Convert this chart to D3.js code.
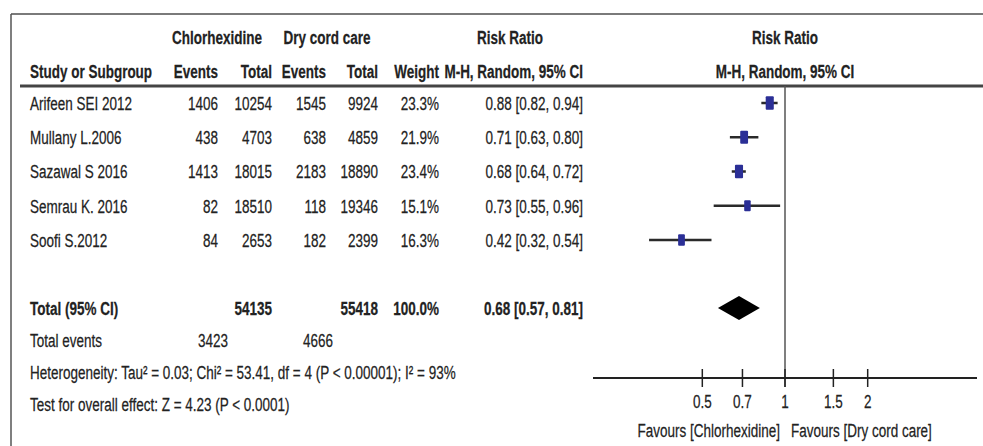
<!DOCTYPE html>
<html>
<head>
<meta charset="utf-8">
<script src="https://cdn.jsdelivr.net/npm/d3@7"></script>
<style>
  html, body { margin: 0; padding: 0; background: #fff; }
  svg { display: block; }
  text { font-family: "Liberation Sans", Arial, sans-serif; fill: #222; stroke: #222; stroke-width: 0.25; }
</style>
</head>
<body>
<svg id="chart" width="983" height="446"></svg>
<script>
// Study-level data
const studies   = ["Arifeen SEI 2012", "Mullany L.2006", "Sazawal S 2016", "Semrau K. 2016", "Soofi S.2012"];
const chxEvents = [1406, 438, 1413, 82, 84];
const chxTotal  = [10254, 4703, 18015, 18510, 2653];
const dryEvents = [1545, 638, 2183, 118, 182];
const dryTotal  = [9924, 4859, 18890, 19346, 2399];
const weights   = [23.3, 21.9, 23.4, 15.1, 16.3];
const rr        = [0.88, 0.71, 0.68, 0.73, 0.42];
const rrLow     = [0.82, 0.63, 0.64, 0.55, 0.32];
const rrHigh    = [0.94, 0.80, 0.72, 0.96, 0.54];

// Pooled estimate
const pooledChxTotal = 54135;
const pooledDryTotal = 55418;
const pooledWeight = 100.0;
const pooled = [0.68, 0.57, 0.81];
const pooledChxEvents = 3423;
const pooledDryEvents = 4666;
const heterogeneityText = "Heterogeneity: Tau\u00B2 = 0.03; Chi\u00B2 = 53.41, df = 4 (P < 0.00001); I\u00B2 = 93%";
const overallText = "Test for overall effect: Z = 4.23 (P < 0.0001)";

// Axis
const axisTicks = [0.5, 0.7, 1, 1.5, 2];
const axisDomain = [0.2, 5];
const favourLeft = "Favours [Chlorhexidine]";
const favourRight = "Favours [Dry cord care]";

const svg = d3.select("#chart");
svg.append("rect").attr("width", 983).attr("height", 446).attr("fill", "#fff");

const fmt2 = d3.format(".2f");
const ciText = (m, l, h) => `${fmt2(m)} [${fmt2(l)}, ${fmt2(h)}]`;

// Frame lines
svg.append("line").attr("x1", 11).attr("x2", 983).attr("y1", 14).attr("y2", 14)
  .attr("stroke", "#7a7a7a").attr("stroke-width", 2);
svg.append("line").attr("x1", 11).attr("x2", 11).attr("y1", 14).attr("y2", 446)
  .attr("stroke", "#555").attr("stroke-width", 1.5);
// Header underline
svg.append("line").attr("x1", 20).attr("x2", 983).attr("y1", 86).attr("y2", 86)
  .attr("stroke", "#444").attr("stroke-width", 3);

// Condensed lettering: regular face squeezed horizontally
const fs = 19;
const squeeze = 0.71;
function txt(x, y, s, anchor, bold, size) {
  return svg.append("text")
    .attr("transform", `translate(${x},${y}) scale(${squeeze},1)`)
    .attr("dy", "0.36em")
    .attr("text-anchor", anchor || "start")
    .attr("font-size", size || fs)
    .attr("font-weight", bold ? 700 : 400)
    .text(s);
}

// Column right edges
const col = { name: 30, chxE: 218, chxT: 272, dryE: 326, dryT: 378, w: 439, rr: 583 };

// Headers
txt(217, 37, "Chlorhexidine", "middle", true);
txt(327, 37, "Dry cord care", "middle", true);
txt(510, 37, "Risk Ratio", "middle", true);
txt(785, 37, "Risk Ratio", "middle", true);
txt(col.name, 71, "Study or Subgroup", "start", true);
txt(col.chxE, 71, "Events", "end", true);
txt(col.chxT, 71, "Total", "end", true);
txt(col.dryE, 71, "Events", "end", true);
txt(col.dryT, 71, "Total", "end", true);
txt(col.w, 71, "Weight", "end", true);
txt(col.rr, 71, "M-H, Random, 95% CI", "end", true);
txt(785, 71, "M-H, Random, 95% CI", "middle", true);

// Row positions
const rowY = d3.scalePoint().domain(studies).range([103, 240]);

studies.forEach((s, i) => {
  const y = rowY(s);
  txt(col.name, y, s, "start");
  txt(col.chxE, y, chxEvents[i], "end");
  txt(col.chxT, y, chxTotal[i], "end");
  txt(col.dryE, y, dryEvents[i], "end");
  txt(col.dryT, y, dryTotal[i], "end");
  txt(col.w, y, weights[i].toFixed(1) + "%", "end");
  txt(col.rr, y, ciText(rr[i], rrLow[i], rrHigh[i]), "end");
});

// Totals
const totalY = 308;
txt(col.name, totalY, "Total (95% CI)", "start", true);
txt(col.chxT, totalY, pooledChxTotal, "end", true);
txt(col.dryT, totalY, pooledDryTotal, "end", true);
txt(col.w, totalY, pooledWeight.toFixed(1) + "%", "end", true);
txt(col.rr, totalY, ciText(pooled[0], pooled[1], pooled[2]), "end", true);

txt(col.name, 340, "Total events", "start");
txt(col.chxE + 10, 340, pooledChxEvents, "end");
txt(col.dryE + 7, 340, pooledDryEvents, "end");
txt(col.name, 372, heterogeneityText, "start");
txt(col.name, 404, overallText, "start");

// Forest plot
const x = d3.scaleLog().domain(axisDomain).range([593, 977]);
const axisY = 378;

// Line of no effect
svg.append("line").attr("x1", x(1)).attr("x2", x(1)).attr("y1", 86).attr("y2", axisY + 9)
  .attr("stroke", "#555").attr("stroke-width", 1.5);

// Confidence intervals
const g = svg.append("g");
g.selectAll("line.ci").data(studies).join("line")
  .attr("class", "ci")
  .attr("x1", (d, i) => x(rrLow[i])).attr("x2", (d, i) => x(rrHigh[i]))
  .attr("y1", d => rowY(d)).attr("y2", d => rowY(d))
  .attr("stroke", "#2a2a2a").attr("stroke-width", 2.5);

// Weighted squares
const size = d3.scaleSqrt().domain([0, 23.4]).range([0, 13.5]);
g.selectAll("rect.pt").data(studies).join("rect")
  .attr("class", "pt")
  .attr("x", (d, i) => x(rr[i]) - size(weights[i]) * 0.3)
  .attr("y", (d, i) => rowY(d) - size(weights[i]) / 2)
  .attr("width", (d, i) => size(weights[i]) * 0.6)
  .attr("height", (d, i) => size(weights[i]))
  .attr("rx", 1)
  .attr("fill", "#2b2f96");

// Pooled diamond
const dh = 12;
svg.append("path")
  .attr("d", `M${x(pooled[1])},${totalY} L${x(pooled[0])},${totalY - dh} L${x(pooled[2])},${totalY} L${x(pooled[0])},${totalY + dh} Z`)
  .attr("fill", "#000");

// Axis
svg.append("line").attr("x1", x.range()[0]).attr("x2", x.range()[1]).attr("y1", axisY).attr("y2", axisY)
  .attr("stroke", "#222").attr("stroke-width", 2);
svg.selectAll("line.tick").data(axisTicks).join("line")
  .attr("class", "tick")
  .attr("x1", d => x(d)).attr("x2", d => x(d))
  .attr("y1", axisY - 9).attr("y2", axisY + 9)
  .attr("stroke", "#222").attr("stroke-width", 1.5);
axisTicks.forEach(d => txt(x(d), 401, d, "middle"));

txt(x(1) - 5, 430, favourLeft, "end");
txt(x(1) + 6, 430, favourRight, "start");
</script>
</body>
</html>
